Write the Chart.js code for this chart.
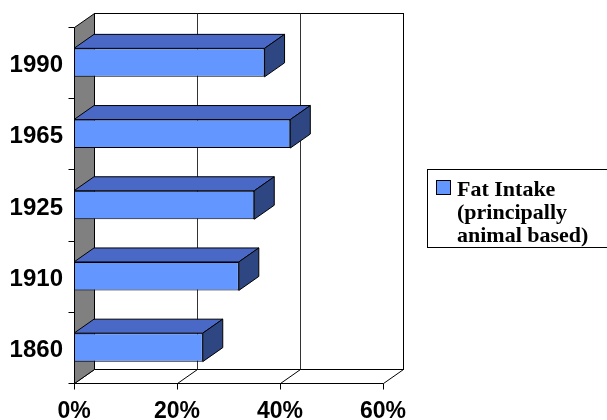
<!DOCTYPE html>
<html>
<head>
<meta charset="utf-8">
<script src="https://cdn.jsdelivr.net/npm/chart.js@4/dist/chart.umd.min.js"></script>
<style>
  html, body { margin: 0; padding: 0; background: #ffffff; }
  #wrap { width: 607px; height: 420px; }
</style>
</head>
<body>
<div id="wrap"><canvas id="c" width="607" height="420"></canvas></div>
<script>
// Years shown on the category axis (top to bottom)
const years = ['1990', '1965', '1925', '1910', '1860'];
// Share of fat intake, percent
const fatShare = [37, 42, 35, 32, 25];
// Legend text, one entry per line
const seriesLines = ['Fat Intake', '(principally', 'animal based)'];
// Value axis range and step
const axisMin = 0, axisMax = 60, axisStep = 20;

const FRONT = '#6396FF';
const TOP = '#4A69C6';
const SIDE = '#2E4783';
const WALL = '#808080';
const DX = 20, DY = 14; // depth offset of the 3D box

function poly(ctx, pts, fill) {
  ctx.beginPath();
  ctx.moveTo(pts[0][0], pts[0][1]);
  for (let i = 1; i < pts.length; i++) ctx.lineTo(pts[i][0], pts[i][1]);
  ctx.closePath();
  if (fill) { ctx.fillStyle = fill; ctx.fill(); }
  ctx.stroke();
}
function line(ctx, x1, y1, x2, y2) {
  ctx.beginPath(); ctx.moveTo(x1, y1); ctx.lineTo(x2, y2); ctx.stroke();
}

const box3d = {
  id: 'box3d',
  beforeDatasetsDraw(chart) {
    const ctx = chart.ctx, a = chart.chartArea, xs = chart.scales.x;
    const L = Math.round(a.left) + 0.5, R = Math.round(a.right) + 0.5;
    const T = Math.round(a.top) + 0.5, B = Math.round(a.bottom) + 0.5;
    ctx.save();
    ctx.lineWidth = 1;
    ctx.strokeStyle = '#000';
    // back wall
    ctx.fillStyle = '#fff';
    ctx.fillRect(L + DX, T - DY, R - L, B - T);
    ctx.strokeRect(L + DX, T - DY, R - L, B - T);
    // back wall gridlines and floor lines
    for (let v = axisMin; v <= axisMax; v += axisStep) {
      const px = Math.round(xs.getPixelForValue(v)) + 0.5;
      ctx.strokeStyle = v === axisMin || v === axisMax ? '#000' : '#333';
      line(ctx, px + DX, T - DY, px + DX, B - DY);
      ctx.strokeStyle = '#000';
      line(ctx, px, B, px + DX, B - DY);
      line(ctx, px, B, px, B + 6);
    }
    line(ctx, L, B, R, B);
    // left wall
    poly(ctx, [[L, T], [L + DX, T - DY], [L + DX, B - DY], [L, B]], WALL);
    // category boundary ticks
    const n = years.length;
    for (let i = 0; i <= n; i++) {
      const py = Math.round(a.top + (a.bottom - a.top) * i / n) + 0.5;
      line(ctx, L - 6, py, L, py);
    }
    ctx.restore();
  },
  afterDatasetsDraw(chart) {
    const ctx = chart.ctx;
    ctx.save();
    ctx.lineWidth = 1;
    ctx.strokeStyle = '#000';
    chart.getDatasetMeta(0).data.forEach(el => {
      const p = el.getProps(['x', 'y', 'base', 'height'], true);
      const t = p.y - p.height / 2, b = p.y + p.height / 2;
      poly(ctx, [[p.base, t], [p.x, t], [p.x + DX, t - DY], [p.base + DX, t - DY]], TOP);
      poly(ctx, [[p.x, t], [p.x + DX, t - DY], [p.x + DX, b - DY], [p.x, b]], SIDE);
    });
    ctx.restore();
  },
  afterDraw(chart) {
    // legend box
    const ctx = chart.ctx;
    ctx.save();
    ctx.lineWidth = 1;
    ctx.strokeStyle = '#000';
    ctx.fillStyle = '#fff';
    ctx.fillRect(427.5, 169.5, 180, 78);
    ctx.strokeRect(427.5, 169.5, 180, 78);
    ctx.fillStyle = chart.data.datasets[0].backgroundColor;
    ctx.fillRect(436.5, 180.5, 14, 14);
    ctx.strokeRect(436.5, 180.5, 14, 14);
    ctx.fillStyle = '#000';
    ctx.font = 'bold 22px "Liberation Serif", "Times New Roman", serif';
    ctx.textBaseline = 'alphabetic';
    seriesLines.forEach((s, i) => ctx.fillText(s, 457, 196 + i * 23));
    ctx.restore();
  }
};

const tickFont = { family: '"Liberation Sans", Arial, sans-serif', size: 23, weight: 'bold' };

new Chart(document.getElementById('c'), {
  type: 'bar',
  data: {
    labels: years,
    datasets: [{
      label: seriesLines.join(' '),
      data: fatShare,
      backgroundColor: FRONT,
      borderColor: '#000',
      borderWidth: 1,
      borderSkipped: false,
      categoryPercentage: 1,
      barPercentage: 0.4
    }]
  },
  options: {
    indexAxis: 'y',
    responsive: false,
    animation: false,
    devicePixelRatio: 1,
    layout: { padding: { top: 27, right: 224, left: 0, bottom: 0 } },
    plugins: { legend: { display: false }, tooltip: { enabled: false } },
    scales: {
      x: {
        min: axisMin, max: axisMax,
        grid: { display: false, drawTicks: false },
        border: { display: false },
        ticks: {
          stepSize: axisStep,
          color: '#000',
          font: tickFont,
          padding: 15,
          maxRotation: 0,
          callback: v => v + '%'
        },
        afterFit(s) { s.height = 37; }
      },
      y: {
        grid: { display: false, drawTicks: false },
        border: { display: false },
        ticks: { color: '#000', font: { ...tickFont, size: 24 }, padding: 11, labelOffset: 3 },
        afterFit(s) { s.width = 74; }
      }
    }
  },
  plugins: [box3d]
});
</script>
</body>
</html>
